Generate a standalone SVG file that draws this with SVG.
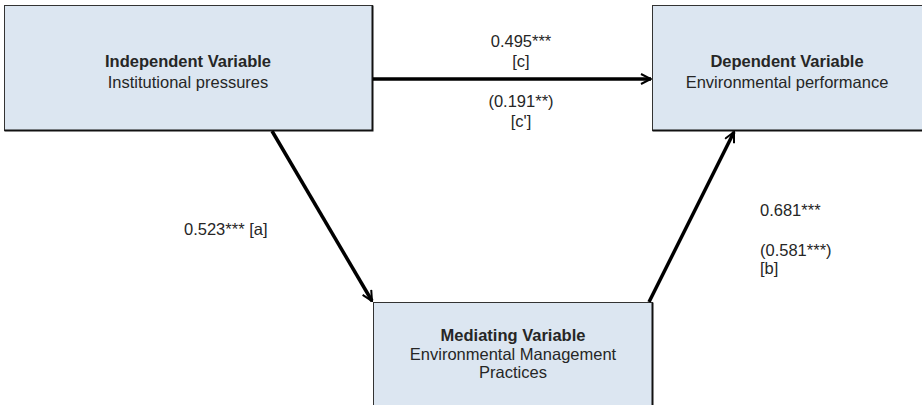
<svg xmlns="http://www.w3.org/2000/svg" width="922" height="405" viewBox="0 0 922 405">
<defs>
<style>
.box{fill:#dce6f1;stroke:#333;stroke-width:1}
.sh{fill:none;stroke:#111;stroke-width:2}
.t{font-family:"Liberation Sans",Arial,sans-serif;font-size:16.5px;fill:#262626;text-anchor:middle}
.b{font-weight:bold}
.l{font-family:"Liberation Sans",Arial,sans-serif;font-size:16.5px;fill:#262626}
.c{stroke:#000;stroke-width:3.5;fill:none}
</style>
<marker id="ah" viewBox="0 0 12 12" refX="11" refY="6" markerWidth="12" markerHeight="12" markerUnits="userSpaceOnUse" orient="auto">
<path d="M1,1 L11,6 L1,11" fill="none" stroke="#000" stroke-width="2"/>
</marker>
</defs>
<rect width="922" height="405" fill="#fff"/>
<g id="independent">
<rect class="box" x="4.5" y="5.5" width="368" height="125"/>
<polyline class="sh" points="372.5,5.5 372.5,130.5 4.5,130.5"/>
<text class="t b" x="188" y="67">Independent Variable</text>
<text class="t" x="188" y="88">Institutional pressures</text>
</g>
<g id="dependent">
<rect class="box" x="652.5" y="5.5" width="275" height="125"/>
<line class="sh" x1="652.5" y1="130.5" x2="922" y2="130.5"/>
<text class="t b" x="787" y="67">Dependent Variable</text>
<text class="t" x="787" y="88">Environmental performance</text>
</g>
<g id="mediating">
<rect class="box" x="373.5" y="302.5" width="279" height="110"/>
<line class="sh" x1="652.5" y1="302.5" x2="652.5" y2="405"/>
<text class="t b" x="513" y="341">Mediating Variable</text>
<text class="t" x="513" y="360">Environmental Management</text>
<text class="t" x="513" y="378">Practices</text>
</g>
<g id="connectors">
<line class="c" x1="373" y1="79" x2="651" y2="79" marker-end="url(#ah)"/>
<line class="c" x1="272" y1="131" x2="372" y2="301" marker-end="url(#ah)"/>
<line class="c" x1="649" y1="302" x2="734" y2="132" marker-end="url(#ah)"/>
</g>
<g id="labels">
<text class="t" x="521" y="47">0.495***</text>
<text class="t" x="521" y="67">[c]</text>
<text class="t" x="521" y="107">(0.191**)</text>
<text class="t" x="521" y="127">[c']</text>
<text class="l" x="184" y="235">0.523*** [a]</text>
<text class="l" x="760" y="216">0.681***</text>
<text class="l" x="760" y="256">(0.581***)</text>
<text class="l" x="760" y="274">[b]</text>
</g>
</svg>
